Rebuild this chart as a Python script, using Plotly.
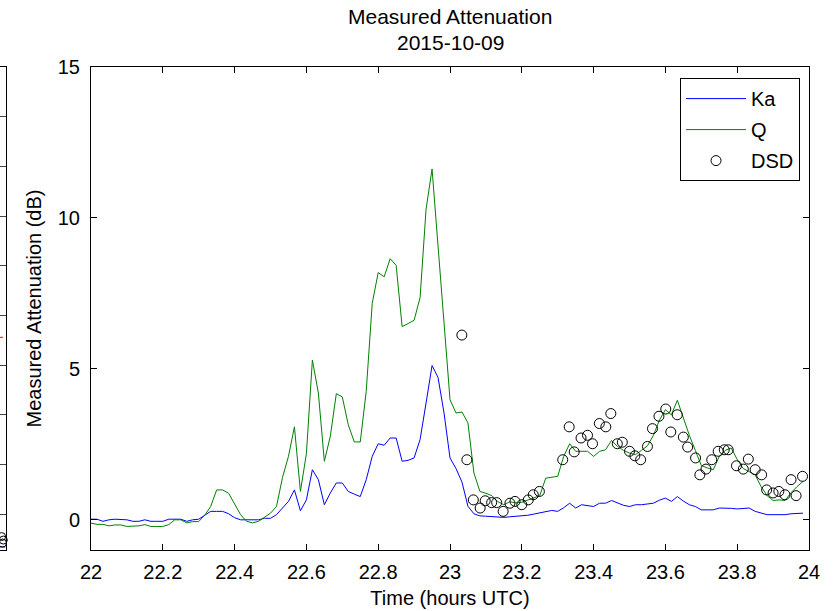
import numpy as np
import plotly.graph_objects as go

# One-minute samples from 22:00 to 23:59 UTC
minutes = np.arange(120)
hours = 22 + minutes / 60.0

ka_db = [0.02, 0.02, -0.05, 0.0, 0.02, 0.02, 0.0, -0.05, -0.05, 0.0,
         -0.05, -0.05, -0.05, 0.02, 0.02, 0.02, -0.05, 0.0, 0.02, 0.15,
         0.28, 0.28, 0.28, 0.2, 0.07, 0.0, 0.0, 0.0, 0.0, 0.05,
         0.05, 0.17, 0.39, 0.61,
         0.99, 0.3, 0.66, 1.66, 1.33, 0.5, 0.89, 1.22, 1.22, 0.94,
         0.85, 0.77, 1.33, 2.1, 2.52, 2.47, 2.71, 2.71, 1.94, 1.97,
         2.05, 2.66, 3.87, 5.11, 4.72, 3.54, 2.05, 1.7, 1.25,
         0.45, 0.2, 0.13, 0.12, 0.11, 0.1, 0.08, 0.1, 0.11, 0.13,
         0.15, 0.19, 0.23, 0.28, 0.31, 0.28, 0.4, 0.55, 0.39, 0.5,
         0.48, 0.44, 0.55, 0.55, 0.64, 0.55, 0.48, 0.44, 0.5, 0.5,
         0.53, 0.55, 0.65, 0.72, 0.61, 0.77, 0.62, 0.5, 0.44, 0.33,
         0.33, 0.33, 0.39, 0.39, 0.38, 0.36, 0.38, 0.39, 0.28, 0.22,
         0.17, 0.17, 0.17, 0.17, 0.2, 0.22, 0.22]

q_db = [-0.11, -0.15, -0.15, -0.2, -0.17, -0.17, -0.22, -0.22, -0.2, -0.16,
        -0.22, -0.22, -0.22, -0.16, 0.0, 0.0, -0.1, -0.06, -0.06, 0.15,
        0.44, 0.99, 0.99, 0.88, 0.5, 0.17, -0.05, -0.1, -0.05, 0.08,
        0.22, 0.44, 1.4, 2.1,
        3.08, 0.94, 2.19, 5.29, 4.2, 1.94, 2.77, 4.18, 4.07, 3.15,
        2.58, 2.58, 4.26, 7.17, 8.19, 8.05, 8.65, 8.43, 6.4, 6.5,
        6.61, 7.36, 10.29, 11.62, 9.18, 6.53, 3.98, 3.54, 3.57,
        3.21, 1.55, 0.94, 0.88, 0.8, 0.6, 0.5, 0.6, 0.56, 0.58,
        0.66, 0.72, 0.8, 1.38, 1.4, 1.44, 2.1, 2.52, 2.27, 2.27,
        2.27, 2.1, 2.27, 2.32, 2.63, 2.43, 2.3, 2.21, 2.16, 2.3,
        2.45, 2.8, 3.3, 3.65, 3.48, 3.96, 3.34, 2.8, 2.3, 1.8,
        1.72, 1.66, 2.1, 2.3, 2.38, 2.0, 1.7, 1.6, 1.49, 1.1,
        0.8, 0.64, 0.66, 0.64, 0.9, 1.1, 1.27]

# Attenuation derived from drop size distribution measurements
dsd_hours = [23.033, 23.047, 23.065, 23.084, 23.098, 23.116, 23.130, 23.148, 23.167, 23.181,
             23.200, 23.218, 23.232, 23.249, 23.314, 23.332, 23.346, 23.365, 23.383, 23.397,
             23.416, 23.434, 23.448, 23.466, 23.480, 23.500, 23.515, 23.531, 23.550, 23.564,
             23.582, 23.601, 23.615, 23.633, 23.650, 23.662, 23.684, 23.696, 23.713, 23.729,
             23.747, 23.764, 23.775, 23.798, 23.817, 23.831, 23.850, 23.868, 23.882, 23.900,
             23.916, 23.933, 23.950, 23.964, 23.982]
dsd_db = [6.12, 1.99, 0.66, 0.39, 0.63, 0.57, 0.57, 0.28, 0.55, 0.61,
          0.5, 0.66, 0.83, 0.94, 1.99, 3.08, 2.25, 2.71, 2.8, 2.52,
          3.19, 3.08, 3.52, 2.52, 2.57, 2.27, 2.12, 1.99, 2.43, 3.02,
          3.43, 3.67, 2.91, 3.48, 2.74, 2.41, 2.05, 1.49, 1.68, 1.99,
          2.27, 2.32, 2.32, 1.79, 1.68, 2.01, 1.66, 1.49, 0.99, 0.89,
          0.94, 0.83, 1.33, 0.8, 1.44]

x_ticks = [22, 22.2, 22.4, 22.6, 22.8, 23, 23.2, 23.4, 23.6, 23.8, 24]
y_ticks = [0, 5, 10, 15]

# Edge of the neighbouring panel on the left
side_marker_y = [-0.45, -0.52, -0.58]
side_marker_x = [0.3, 0.6, 0.45]
side_ref_y = [3.56, 3.56]
side_line_y = [-0.66, -0.66]

FONT = "Liberation Sans, Arial, Helvetica, sans-serif"
FS = 20
W, H = 836, 611
L_PX, R_PX, T_PX, B_PX = 91, 809, 67, 550

fig = go.Figure()

fig.add_trace(go.Scatter(x=hours, y=ka_db, mode="lines", name="Ka",
                         line=dict(color="#0000ff", width=1), legendgroup="ka"))
fig.add_trace(go.Scatter(x=hours, y=q_db, mode="lines", name="Q",
                         line=dict(color="#008000", width=1), legendgroup="q"))
fig.add_trace(go.Scatter(x=dsd_hours, y=dsd_db, mode="markers", name="DSD",
                         marker=dict(symbol="circle-open", size=10, color="black",
                                     line=dict(width=1, color="black")),
                         legendgroup="dsd"))

# left neighbouring panel fragment
fig.add_trace(go.Scatter(x=[0, 1], y=side_line_y, mode="lines", xaxis="x2", yaxis="y2",
                         line=dict(color="#0000ff", width=1), showlegend=False))
fig.add_trace(go.Scatter(x=[0, 1], y=side_ref_y, mode="lines", xaxis="x2", yaxis="y2",
                         line=dict(color="#ff0000", width=1, dash="dot"), showlegend=False))
fig.add_trace(go.Scatter(x=side_marker_x, y=side_marker_y, mode="markers", xaxis="x2", yaxis="y2",
                         marker=dict(symbol="circle-open", size=8, color="black",
                                     line=dict(width=1)),
                         cliponaxis=False, showlegend=False))

main_axis = dict(showline=True, linecolor="black", linewidth=1, mirror="ticks",
                 ticks="inside", ticklen=6, tickcolor="black", tickwidth=1,
                 showgrid=False, zeroline=False,
                 tickfont=dict(family=FONT, size=FS, color="black"))

fig.update_layout(
    width=W, height=H,
    margin=dict(l=0, r=W - R_PX, t=T_PX, b=H - B_PX, pad=0),
    paper_bgcolor="white", plot_bgcolor="white",
    font=dict(family=FONT, size=FS, color="black"),
    xaxis=dict(domain=[L_PX / R_PX, 1], range=[22, 24], tickvals=x_ticks,
               ticklabelstandoff=4,
               title=dict(text="Time (hours UTC)", font=dict(size=FS), standoff=8),
               automargin=False, **main_axis),
    yaxis=dict(range=[-1, 15], tickvals=y_ticks, ticklabelstandoff=6,
               title=dict(text="Measured Attenuation (dB)", font=dict(size=FS), standoff=10),
               automargin=False, **main_axis),
    xaxis2=dict(domain=[0, 5.5 / R_PX], range=[0, 1], anchor="y2",
                showline=True, linecolor="black", mirror=True, ticks="",
                tickvals=[1], ticktext=["8"], ticklabelstandoff=4,
                showgrid=False, zeroline=False,
                tickfont=dict(family=FONT, size=FS, color="black")),
    yaxis2=dict(domain=[0, 1], range=[-0.72, 9], anchor="x2", tick0=0, dtick=1,
                showline=True, linecolor="black", mirror="ticks", ticks="inside",
                ticklen=5, showticklabels=False, showgrid=False, zeroline=False),
    legend=dict(x=0.9889, y=0.977, xanchor="right", yanchor="top",
                bgcolor="white", bordercolor="black", borderwidth=1,
                font=dict(family=FONT, size=FS, color="black"),
                tracegroupgap=2, itemwidth=60),
    showlegend=True,
    annotations=[
        dict(text="Measured Attenuation", xref="paper", yref="paper",
             x=(L_PX + R_PX) / 2 / R_PX, y=1 + (T_PX - 17) / (B_PX - T_PX),
             xanchor="center", yanchor="middle", showarrow=False,
             font=dict(family=FONT, size=21, color="black")),
        dict(text="2015-10-09", xref="paper", yref="paper",
             x=(L_PX + R_PX) / 2 / R_PX, y=1 + (T_PX - 43) / (B_PX - T_PX),
             xanchor="center", yanchor="middle", showarrow=False,
             font=dict(family=FONT, size=21, color="black")),
    ],
)

fig.write_html("out.html")
